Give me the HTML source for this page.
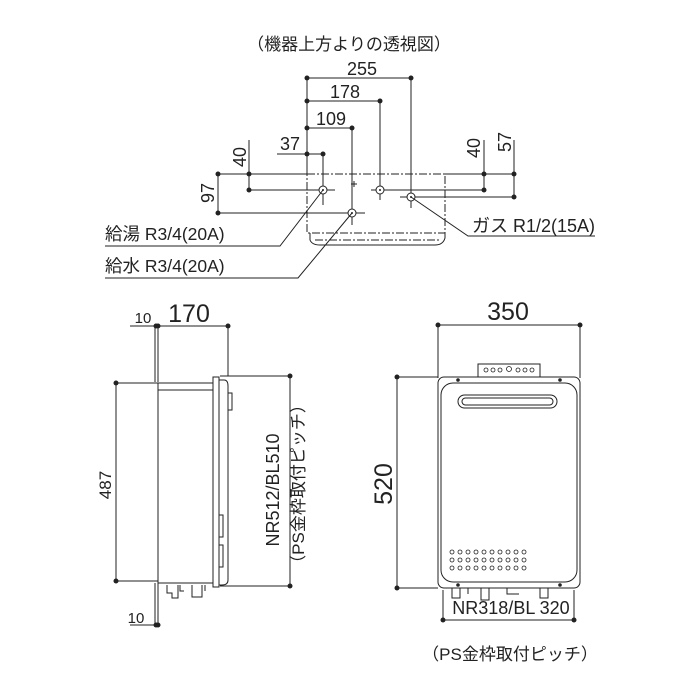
<!DOCTYPE html>
<html><head><meta charset="utf-8"><style>
html,body{margin:0;padding:0;background:#fff}
svg{display:block}
text{font-family:"Liberation Sans","Noto Sans CJK JP",sans-serif;fill:#222}
</style></head><body>
<svg width="700" height="700" viewBox="0 0 700 700" xmlns="http://www.w3.org/2000/svg">
<g stroke="#222" stroke-width="1" fill="none">
<rect x="307" y="174" width="138" height="59" stroke-dasharray="8,2,2,2"/>
<path d="M310 233 L310 240 Q312 245 320 245 L435 245 Q443 245 445 238 L445 233"/>
<line x1="315" y1="240" x2="440" y2="240" stroke-dasharray="8,2,2,2"/>
<line x1="307" y1="78" x2="411" y2="78"/>
<line x1="307" y1="101" x2="380" y2="101"/>
<line x1="307" y1="128" x2="352" y2="128"/>
<line x1="277" y1="154" x2="323" y2="154"/>
<line x1="307" y1="78" x2="307" y2="174"/>
<line x1="218" y1="174" x2="307" y2="174"/>
<line x1="445" y1="174" x2="514" y2="174"/>
<line x1="249" y1="190" x2="335" y2="190"/>
<line x1="371" y1="190" x2="484" y2="190"/>
<line x1="400" y1="197" x2="514" y2="197"/>
<line x1="218" y1="213" x2="365" y2="213"/>
<line x1="249" y1="140" x2="249" y2="190"/>
<line x1="218" y1="174" x2="218" y2="213"/>
<line x1="484" y1="140" x2="484" y2="190"/>
<line x1="514" y1="140" x2="514" y2="197"/>
<line x1="323" y1="154" x2="323" y2="205"/>
<line x1="352" y1="128" x2="352" y2="225"/>
<line x1="380" y1="101" x2="380" y2="200"/>
<line x1="411" y1="78" x2="411" y2="208"/>
<line x1="351" y1="184" x2="357" y2="184"/><line x1="354" y1="181" x2="354" y2="187"/>
<circle cx="323" cy="190" r="4" fill="#fff"/><circle cx="352" cy="213" r="4" fill="#fff"/>
<circle cx="380" cy="190" r="4" fill="#fff"/><circle cx="411" cy="197" r="4" fill="#fff"/>
<polyline points="105,246 280,246 323,190"/>
<polyline points="105,278 298,278 352,213"/>
<polyline points="411,197 468,236 595,236"/>
<line x1="130" y1="326" x2="228" y2="326"/>
<line x1="155" y1="326" x2="155" y2="382"/><line x1="158" y1="326" x2="158" y2="382"/>
<line x1="228" y1="326" x2="228" y2="376"/>
<line x1="116" y1="383" x2="116" y2="581"/>
<line x1="116" y1="383" x2="158" y2="383"/><line x1="116" y1="581" x2="158" y2="581"/>
<rect x="158" y="383" width="55" height="200"/>
<rect x="158" y="383" width="55" height="7"/>
<rect x="213" y="377" width="6" height="210"/>
<path d="M219 380 L224 380 Q228 380 228 386 L228 580 Q228 585 222 585 L219 585"/>
<rect x="228" y="393" width="4" height="17"/>
<rect x="219" y="515" width="4" height="22"/><rect x="219" y="545" width="4" height="22"/>
<line x1="220" y1="376" x2="290" y2="376"/><line x1="220" y1="586" x2="290" y2="586"/>
<line x1="290" y1="376" x2="290" y2="586"/>
<path d="M167 585 v8 h5 v5 h6 v-13 M180 585 v6 h4 M192 585 v12 h10 v-12 M205 585 v6"/>
<line x1="155" y1="583" x2="155" y2="625"/><line x1="158" y1="583" x2="158" y2="625"/>
<line x1="130" y1="625" x2="158" y2="625"/>
<line x1="438" y1="325" x2="580" y2="325"/>
<line x1="438" y1="325" x2="438" y2="378"/><line x1="580" y1="325" x2="580" y2="378"/>
<rect x="438" y="377" width="142" height="211" rx="6"/>
<rect x="441" y="383" width="136" height="199" rx="12"/>
<rect x="458" y="395" width="99" height="13" rx="6.5"/>
<rect x="462" y="398" width="91" height="7" rx="3.5"/>
<rect x="478" y="364" width="62" height="13"/>
<line x1="397" y1="377" x2="397" y2="588"/>
<line x1="397" y1="377" x2="438" y2="377"/><line x1="397" y1="588" x2="438" y2="588"/>
<path d="M452 588 v10 h8 v-10 M468 588 v6 M481 588 v12 h8 v-12 M507 588 v6 h12 M540 588 v10 h8 v-10"/>
<line x1="443" y1="590" x2="443" y2="620"/><line x1="574" y1="590" x2="574" y2="620"/>
<line x1="443" y1="620" x2="574" y2="620"/>
</g>
<g fill="none" stroke="#222" stroke-width="0.8">
<circle cx="486" cy="370" r="2"/><circle cx="493" cy="370" r="2"/><circle cx="500" cy="370" r="2"/><circle cx="509" cy="369" r="2.5"/><circle cx="518" cy="370" r="2"/><circle cx="525" cy="370" r="2"/><circle cx="532" cy="370" r="2"/>
</g>
<g fill="#222">
<circle cx="323" cy="190" r="1"/><circle cx="352" cy="213" r="1"/><circle cx="380" cy="190" r="1"/><circle cx="411" cy="197" r="1"/>
<circle cx="307" cy="78" r="2.5"/><circle cx="411" cy="78" r="2.5"/>
<circle cx="307" cy="101" r="2.5"/><circle cx="380" cy="101" r="2.5"/>
<circle cx="307" cy="128" r="2.5"/><circle cx="352" cy="128" r="2.5"/>
<circle cx="307" cy="154" r="2.5"/><circle cx="323" cy="154" r="2.5"/>
<circle cx="218" cy="174" r="2.5"/><circle cx="249" cy="174" r="2.5"/><circle cx="249" cy="190" r="2.5"/><circle cx="218" cy="213" r="2.5"/>
<circle cx="484" cy="174" r="2.5"/><circle cx="514" cy="174" r="2.5"/><circle cx="484" cy="190" r="2.5"/><circle cx="514" cy="197" r="2.5"/>
<circle cx="156" cy="326" r="2.5"/><circle cx="158" cy="326" r="2.5"/><circle cx="228" cy="326" r="2.5"/>
<circle cx="116" cy="383" r="2.5"/><circle cx="116" cy="581" r="2.5"/>
<circle cx="290" cy="376" r="2.5"/><circle cx="290" cy="586" r="2.5"/>
<circle cx="156" cy="625" r="2.5"/><circle cx="158" cy="625" r="2.5"/>
<circle cx="438" cy="325" r="2.5"/><circle cx="580" cy="325" r="2.5"/>
<circle cx="397" cy="377" r="2.5"/><circle cx="397" cy="588" r="2.5"/>
<circle cx="443" cy="620" r="2.5"/><circle cx="574" cy="620" r="2.5"/>
<circle cx="458" cy="380" r="1.8"/><circle cx="560" cy="380" r="1.8"/><circle cx="458" cy="585" r="1.8"/><circle cx="560" cy="585" r="1.8"/>
</g>
<g fill="none" stroke="#222" stroke-width="0.8">
<circle cx="452" cy="552" r="2"/><circle cx="460" cy="552" r="2"/><circle cx="468" cy="552" r="2"/><circle cx="476" cy="552" r="2"/><circle cx="484" cy="552" r="2"/><circle cx="492" cy="552" r="2"/><circle cx="500" cy="552" r="2"/><circle cx="508" cy="552" r="2"/><circle cx="516" cy="552" r="2"/><circle cx="524" cy="552" r="2"/>
<circle cx="452" cy="560" r="2"/><circle cx="460" cy="560" r="2"/><circle cx="468" cy="560" r="2"/><circle cx="476" cy="560" r="2"/><circle cx="484" cy="560" r="2"/><circle cx="492" cy="560" r="2"/><circle cx="500" cy="560" r="2"/><circle cx="508" cy="560" r="2"/><circle cx="516" cy="560" r="2"/><circle cx="524" cy="560" r="2"/>
<circle cx="452" cy="568" r="2"/><circle cx="460" cy="568" r="2"/><circle cx="468" cy="568" r="2"/><circle cx="476" cy="568" r="2"/><circle cx="484" cy="568" r="2"/><circle cx="492" cy="568" r="2"/><circle cx="500" cy="568" r="2"/><circle cx="508" cy="568" r="2"/><circle cx="516" cy="568" r="2"/><circle cx="524" cy="568" r="2"/>
</g>
<text x="349" y="50" font-size="17" text-anchor="middle">（機器上方よりの透視図）</text>
<text x="362" y="75" font-size="18" text-anchor="middle">255</text>
<text x="345" y="98" font-size="18" text-anchor="middle">178</text>
<text x="331" y="125" font-size="18" text-anchor="middle">109</text>
<text x="290" y="150" font-size="18" text-anchor="middle">37</text>
<text transform="translate(246,157) rotate(-90)" font-size="18" text-anchor="middle">40</text>
<text transform="translate(214,193) rotate(-90)" font-size="18" text-anchor="middle">97</text>
<text transform="translate(480,148) rotate(-90)" font-size="18" text-anchor="middle">40</text>
<text transform="translate(511,142) rotate(-90)" font-size="18" text-anchor="middle">57</text>
<text x="105" y="240" font-size="17.5">給湯 R3/4(20A)</text>
<text x="105" y="272" font-size="17.5">給水 R3/4(20A)</text>
<text x="472" y="232" font-size="18">ガス R1/2(15A)</text>
<text x="143" y="323" font-size="15" text-anchor="middle">10</text>
<text x="189" y="322" font-size="25" text-anchor="middle">170</text>
<text transform="translate(111,485) rotate(-90)" font-size="17" text-anchor="middle">487</text>
<text transform="translate(279,490) rotate(-90)" font-size="18" text-anchor="middle">NR512/BL510</text>
<text transform="translate(304,484) rotate(-90)" font-size="17" text-anchor="middle">（PS金枠取付ピッチ）</text>
<text x="136" y="623" font-size="15" text-anchor="middle">10</text>
<text x="508" y="320" font-size="25" text-anchor="middle">350</text>
<text transform="translate(392,484) rotate(-90)" font-size="25" text-anchor="middle">520</text>
<text x="511" y="614" font-size="18" text-anchor="middle">NR318/BL 320</text>
<text x="510" y="660" font-size="17" text-anchor="middle">（PS金枠取付ピッチ）</text>
</svg>
</body></html>
